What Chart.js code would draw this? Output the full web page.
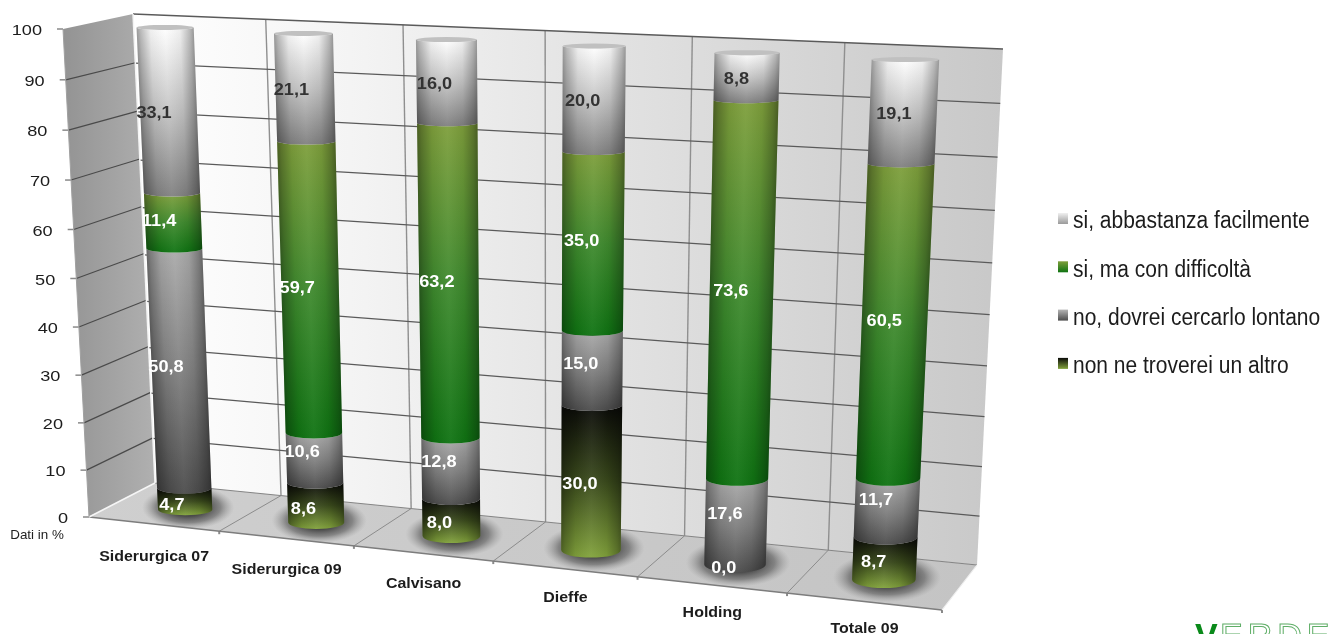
<!DOCTYPE html>
<html>
<head>
<meta charset="utf-8">
<title>Dati in %</title>
<script src="https://cdn.jsdelivr.net/npm/chart.js@4"></script>
<style>
  html, body { margin: 0; background: #fff; overflow: hidden; }
  canvas { display: block; }
</style>
</head>
<body>
<canvas id="chart3d" width="1331" height="634"></canvas>
<script>
var categories = ["Siderurgica 07", "Siderurgica 09", "Calvisano", "Dieffe", "Holding", "Totale 09"];
var nonNeTroverei = [4.7, 8.6, 8.0, 30.0, 0.0, 8.7];
var noLontano = [50.8, 10.6, 12.8, 15.0, 17.6, 11.7];
var siDifficolta = [11.4, 59.7, 63.2, 35.0, 73.6, 60.5];
var siFacilmente = [33.1, 21.1, 16.0, 20.0, 8.8, 19.1];
var yTicks = [0, 10, 20, 30, 40, 50, 60, 70, 80, 90, 100];

// colour ramps, from the top of a segment to its bottom
var ramps = [
    ["#0a0a08", "#3a4a1c", "#82a33c"],
    ["#ababab", "#808080", "#4c4c4c"],
    ["#7f9f3c", "#3f8a2e", "#0f7312"],
    ["#ffffff", "#c4c4c4", "#808080"]
];
var legendRamps = [
    ["#0a0a08", "#82a33c"],
    ["#b5b5b5", "#4c4c4c"],
    ["#7f9f3c", "#0f7312"],
    ["#f0f0f0", "#9a9a9a"]
];

// projective map of the unit square onto a quad (tl, tr, br, bl)
function quadMap(p0, p1, p2, p3) {
    var sx = p0[0] - p1[0] + p2[0] - p3[0], sy = p0[1] - p1[1] + p2[1] - p3[1];
    var dx1 = p1[0] - p2[0], dx2 = p3[0] - p2[0], dy1 = p1[1] - p2[1], dy2 = p3[1] - p2[1];
    var den = dx1 * dy2 - dx2 * dy1;
    var g = (sx * dy2 - dx2 * sy) / den, h = (dx1 * sy - sx * dy1) / den;
    var a = p1[0] - p0[0] + g * p1[0], b = p3[0] - p0[0] + h * p3[0];
    var d = p1[1] - p0[1] + g * p1[1], e = p3[1] - p0[1] + h * p3[1];
    return function (u, v) {
        var w = g * u + h * v + 1;
        return [(a * u + b * v + p0[0]) / w, (d * u + e * v + p0[1]) / w];
    };
}

var backWall = quadMap([133, 14], [1003, 49], [977, 565], [155, 483]);
var leftWall = quadMap([63, 29], [133, 14], [155, 483], [89, 517]);
var barPlane = quadMap([97.5, 24.5], [986.5, 63], [960, 587], [121, 503]);
var labelPlane = quadMap([82, 29], [978, 66], [949, 577], [108, 497]);

var floorFrontL = [89, 517], floorFrontR = [942, 610];

// point on the front edge of the floor, foreshortened towards the left
function frontEdge(u) {
    var t = u / (u + (1 - u) * 1.11);
    return [floorFrontL[0] + (floorFrontR[0] - floorFrontL[0]) * t,
            floorFrontL[1] + (floorFrontR[1] - floorFrontL[1]) * t];
}

function line(ctx, a, b, color, width) {
    ctx.beginPath();
    ctx.moveTo(a[0], a[1]);
    ctx.lineTo(b[0], b[1]);
    ctx.strokeStyle = color;
    ctx.lineWidth = width;
    ctx.stroke();
}

function poly(ctx, pts, fill) {
    ctx.beginPath();
    pts.forEach(function (p, i) { i ? ctx.lineTo(p[0], p[1]) : ctx.moveTo(p[0], p[1]); });
    ctx.closePath();
    ctx.fillStyle = fill;
    ctx.fill();
}

// horizontally scaled text: axis labels run wide, the legend runs narrow
function wideText(ctx, str, x, y, font, color, align, stretch) {
    ctx.save();
    ctx.translate(x, y);
    ctx.scale(stretch, 1);
    ctx.font = font;
    ctx.fillStyle = color;
    ctx.textAlign = align;
    ctx.textBaseline = "middle";
    ctx.fillText(str, 0, 0);
    ctx.restore();
}

function drawWalls(chart) {
    var ctx = chart.ctx, xs = chart.scales.x, ys = chart.scales.y, area = chart.chartArea;
    var fu = function (k) { return (xs.getPixelForValue(k - 0.5) - area.left) / area.width; };
    var fv = function (t) { return (ys.getPixelForValue(t) - area.top) / area.height; };

    var g = ctx.createLinearGradient(133, 0, 1003, 0);
    g.addColorStop(0, "#ffffff");
    g.addColorStop(0.25, "#f4f4f4");
    g.addColorStop(0.55, "#e2e2e2");
    g.addColorStop(1, "#c8c8c8");
    poly(ctx, [backWall(0, 0), backWall(1, 0), backWall(1, 1), backWall(0, 1)], g);

    g = ctx.createLinearGradient(63, 0, 155, 0);
    g.addColorStop(0, "#939393");
    g.addColorStop(1, "#b0b0b0");
    poly(ctx, [leftWall(0, 0), leftWall(1, 0), leftWall(1, 1), leftWall(0, 1)], g);

    g = ctx.createLinearGradient(89, 0, 977, 0);
    g.addColorStop(0, "#cfcfcf");
    g.addColorStop(1, "#c4c4c4");
    poly(ctx, [backWall(0, 1), backWall(1, 1), floorFrontR, floorFrontL], g);

    // vertical lines on the back wall, and their continuation on the floor
    categories.forEach(function (c, i) {
        var u = fu(i + 1), f = frontEdge(u);
        if (i < categories.length - 1) {
            line(ctx, backWall(u, 0), backWall(u, 1), "#8f8f8f", 1.4);
            line(ctx, backWall(u, 1), f, "#8c8c8c", 1);
        }
        line(ctx, f, [f[0], f[1] + 3], "#8a8a8a", 2);
    });

    // horizontal lines and the tick labels
    ys.ticks.forEach(function (tick) {
        var v = fv(tick.value), t = tick.value;
        if (t > 0 && t < 100) {
            line(ctx, backWall(0, v), backWall(1, v), "#5a5a5a", 1.3);
            line(ctx, leftWall(0, v), leftWall(1, v), "#4a4a4a", 1.2);
        }
        var edge = leftWall(0, v);
        line(ctx, [edge[0] - 6, edge[1]], edge, "#8a8a8a", 1.5);
        wideText(ctx, String(t), edge[0] - 21, edge[1] + 2, "15.5px 'Liberation Sans'", "#1c1c1c", "right", 1.17);
    });

    line(ctx, backWall(0, 0), backWall(1, 0), "#5a5a5a", 1.5);
    line(ctx, backWall(0, 1), backWall(1, 1), "#858585", 1.2);
    line(ctx, floorFrontL, floorFrontR, "#7d7d7d", 1.3);
    line(ctx, backWall(0, 0), backWall(0, 1), "#f4f4f4", 1.5);
    line(ctx, backWall(0, 1), floorFrontL, "#f6f6f6", 1.5);
    line(ctx, backWall(1, 1), floorFrontR, "#eeeeee", 1.2);
    line(ctx, leftWall(0, 0), leftWall(0, 1), "#a0a0a0", 1);

    wideText(ctx, "Dati in %", 37, 535, "13px 'Liberation Sans'", "#222", "center", 1.03);

    categories.forEach(function (c, i) {
        var a = frontEdge(fu(i)), b = frontEdge(fu(i + 1));
        wideText(ctx, c, (a[0] + b[0]) / 2, (a[1] + b[1]) / 2 + 33 - 1.2 * i,
            "bold 14.5px 'Liberation Sans'", "#1c1c1c", "center", 1.1);
    });
}

// flat ellipses, thin near the top of a column and rounder near the floor
function ellipseAt(chart, bar, py) {
    var a = chart.chartArea, u0 = (bar.x - bar.width / 2 - a.left) / a.width;
    var u1 = (bar.x + bar.width / 2 - a.left) / a.width, v = (py - a.top) / a.height;
    var l = barPlane(u0, v), r = barPlane(u1, v);
    var cx = (l[0] + r[0]) / 2, cy = (l[1] + r[1]) / 2, rx = (r[0] - l[0]) / 2;
    return {
        l: [cx - rx, cy], r: [cx + rx, cy],
        cx: cx, cy: cy, rx: rx,
        ry: 2.5 + (3 + 3.5 * (u0 + u1) / 2) * v
    };
}

function drawShadow(ctx, e) {
    var rx = e.rx * 1.7, ry = e.ry + 16;
    ctx.save();
    ctx.translate(e.cx + 3, e.cy - 2);
    ctx.scale(1, ry / rx);
    var g = ctx.createRadialGradient(0, 0, rx * 0.4, 0, 0, rx);
    g.addColorStop(0, "rgba(60,60,60,0.9)");
    g.addColorStop(0.5, "rgba(85,85,85,0.6)");
    g.addColorStop(1, "rgba(140,140,140,0)");
    ctx.fillStyle = g;
    ctx.beginPath();
    ctx.arc(0, 0, rx, 0, Math.PI * 2);
    ctx.fill();
    ctx.restore();
}

function drawSegment(ctx, top, bottom, ramp) {
    ctx.save();
    ctx.beginPath();
    ctx.moveTo(top.l[0], top.l[1]);
    ctx.lineTo(bottom.l[0], bottom.l[1]);
    ctx.ellipse(bottom.cx, bottom.cy, bottom.rx, bottom.ry, 0, Math.PI, 0, true);
    ctx.lineTo(top.r[0], top.r[1]);
    ctx.ellipse(top.cx, top.cy, top.rx, top.ry, 0, 0, Math.PI, false);
    ctx.closePath();

    var along = ctx.createLinearGradient(top.cx, top.cy, bottom.cx, bottom.cy + bottom.ry);
    along.addColorStop(0, ramp[0]);
    along.addColorStop(0.5, ramp[1]);
    along.addColorStop(1, ramp[2]);
    ctx.fillStyle = along;
    ctx.fill();

    // rounding across the column, following its lean
    var ax = bottom.cx - top.cx, ay = bottom.cy - top.cy, len = Math.hypot(ax, ay) || 1;
    var nx = ay / len, ny = -ax / len, mx = (top.cx + bottom.cx) / 2, my = (top.cy + bottom.cy) / 2;
    var w = (top.rx + bottom.rx) / 2 + 1;
    var across = ctx.createLinearGradient(mx - nx * w, my - ny * w, mx + nx * w, my + ny * w);
    across.addColorStop(0, "rgba(0,0,0,0.42)");
    across.addColorStop(0.08, "rgba(0,0,0,0.27)");
    across.addColorStop(0.25, "rgba(0,0,0,0.06)");
    across.addColorStop(0.5, "rgba(255,255,255,0.05)");
    across.addColorStop(0.75, "rgba(0,0,0,0.06)");
    across.addColorStop(0.92, "rgba(0,0,0,0.27)");
    across.addColorStop(1, "rgba(0,0,0,0.42)");
    ctx.fillStyle = across;
    ctx.fill();
    ctx.restore();
}

var cylinderPlugin = {
    id: "cylinders",
    beforeDatasetsDraw: function (chart) {
        var ctx = chart.ctx, ys = chart.scales.y, a = chart.chartArea;
        drawWalls(chart);

        var metas = chart.data.datasets.map(function (d, i) { return chart.getDatasetMeta(i); });

        metas[0].data.forEach(function (bar) {
            drawShadow(ctx, ellipseAt(chart, bar, ys.getPixelForValue(0)));
        });
        metas.forEach(function (meta, s) {
            meta.data.forEach(function (bar) {
                if (Math.abs(bar.base - bar.y) < 0.01) return;
                drawSegment(ctx, ellipseAt(chart, bar, bar.y), ellipseAt(chart, bar, bar.base), ramps[s]);
            });
        });
        // caps on top of the full stacks
        metas[metas.length - 1].data.forEach(function (bar) {
            var e = ellipseAt(chart, bar, bar.y);
            ctx.beginPath();
            ctx.ellipse(e.cx, e.cy, e.rx, e.ry, 0, 0, Math.PI * 2);
            ctx.fillStyle = "#c0c0c0";
            ctx.fill();
        });
        // value labels, set on a plane of their own a bit in front of the columns;
        // the bottom series sits a little lower
        metas.forEach(function (meta, s) {
            meta.data.forEach(function (bar, i) {
                var value = chart.data.datasets[s].data[i];
                var p = labelPlane((bar.x - a.left) / a.width, ((bar.y + bar.base) / 2 - a.top) / a.height);
                wideText(ctx, value.toFixed(1).replace(".", ","), p[0], p[1] + (s === 0 ? 13 : 0),
                    "bold 16.5px 'Liberation Sans'", s === 3 ? "#333333" : "#ffffff", "center", 1.1);
            });
        });
        return false;
    },
    afterDraw: function (chart) {
        var ctx = chart.ctx;

        // legend, top row first, in a narrow setting of the sans
        chart.data.datasets.slice().reverse().forEach(function (d, i) {
            var y = 218 + i * 48.3, stops = legendRamps[chart.data.datasets.length - 1 - i];
            var g = ctx.createLinearGradient(0, y - 5, 0, y + 6);
            g.addColorStop(0, stops[0]);
            g.addColorStop(1, stops[1]);
            ctx.fillStyle = g;
            ctx.fillRect(1058, y - 5, 10, 11);
            wideText(ctx, d.label, 1073, y + 4, "23px 'Liberation Sans'", "#1c1c1c", "left", 0.912);
        });

        // the logo at the page foot, cut off by the bottom edge
        ctx.save();
        ctx.font = "bold 34px 'Liberation Sans'";
        ctx.textAlign = "left";
        ctx.textBaseline = "alphabetic";
        ctx.fillStyle = "#0a8a1a";
        ctx.fillText("V", 1195, 647);
        ctx.font = "34px 'Liberation Sans'";
        ctx.strokeStyle = "#5fae67";
        ctx.lineWidth = 1;
        ctx.letterSpacing = "5px";
        ctx.strokeText("ERDE", 1220, 647);
        ctx.restore();
    }
};

var ctx = document.getElementById("chart3d").getContext("2d");
window.myBar = new Chart(ctx, {
    type: "bar",
    data: {
        labels: categories,
        datasets: [
            { label: "non ne troverei un altro", data: nonNeTroverei, backgroundColor: "#3a4a1c" },
            { label: "no, dovrei cercarlo lontano", data: noLontano, backgroundColor: "#808080" },
            { label: "si, ma con difficoltà", data: siDifficolta, backgroundColor: "#3f8a2e" },
            { label: "si, abbastanza facilmente", data: siFacilmente, backgroundColor: "#d8d8d8" }
        ]
    },
    options: {
        responsive: false,
        animation: false,
        datasets: { bar: { barPercentage: 0.42, categoryPercentage: 1 } },
        scales: {
            x: { stacked: true, display: false },
            y: {
                stacked: true, display: false, min: 0, max: 100,
                afterBuildTicks: function (axis) {
                    axis.ticks = yTicks.map(function (t) { return { value: t }; });
                }
            }
        },
        plugins: {
            tooltip: { enabled: false },
            legend: { display: false }
        }
    },
    plugins: [cylinderPlugin]
});
</script>
</body>
</html>
